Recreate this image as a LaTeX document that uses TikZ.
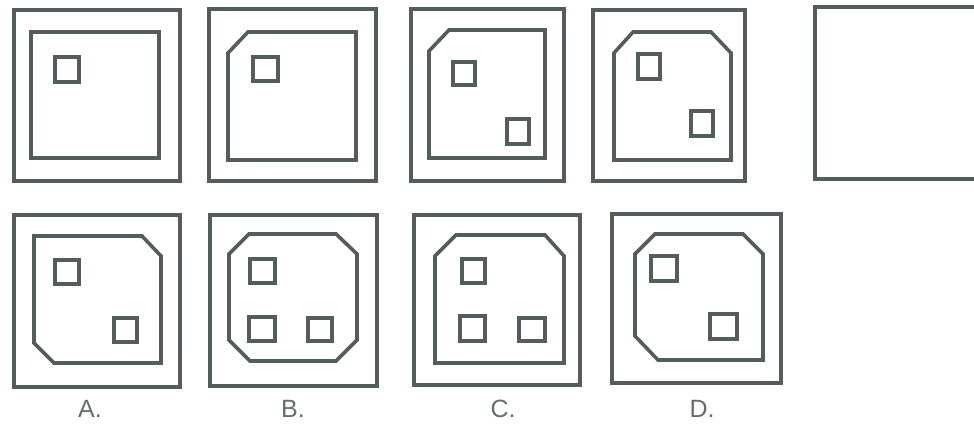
\documentclass[tikz,border=0pt]{standalone}
\usepackage{fontspec}
\setmainfont{Liberation Sans}
\usepackage{tikz}
\usetikzlibrary{positioning}

\definecolor{inkgray}{RGB}{84,94,89}

\begin{document}
\begin{tikzpicture}[x=1pt, y=-1pt, line join=miter,
    frame/.style={draw=inkgray, line width=3.6pt},
    plate/.style={draw=inkgray, line width=3.6pt},
    hole/.style={draw=inkgray, line width=3.2pt},
    choice/.style={font=\fontsize{25}{30}\selectfont, text=inkgray!90, inner sep=0pt}]
  \useasboundingbox (0,0) rectangle (974,425);
  % first row, figure 1
  \draw[frame] (14,10) rectangle (180,181);
  \draw[plate] (31,32) rectangle (159,158);
  \draw[hole] (55,57) rectangle (79,82);
  % figure 2
  \draw[frame] (209,9) rectangle (376,181);
  \draw[plate] (248,32) -- (356,32) -- (356,160) -- (228,160) -- (228,53) -- cycle;
  \draw[hole] (253,57) rectangle (278,81);
  % figure 3
  \draw[frame] (411,9) rectangle (564,181);
  \draw[plate] (449,30) -- (545,30) -- (545,158) -- (429,158) -- (429,51) -- cycle;
  \draw[hole] (453,62) rectangle (475,85);
  \draw[hole] (507,119) rectangle (529,144);
  % figure 4
  \draw[frame] (593,10) rectangle (745,181);
  \draw[plate] (633,32) -- (711,32) -- (731,53) -- (731,160) -- (614,160) -- (614,53) -- cycle;
  \draw[hole] (638,54) rectangle (660,79);
  \draw[hole] (691,111) rectangle (713,136);
  % figure 5 (empty, runs off the right edge)
  \draw[frame] (976,7) -- (815,7) -- (815,179) -- (976,179);
  % option A
  \draw[frame] (14,215) rectangle (180,387);
  \draw[plate] (34,236) -- (142,236) -- (161,256) -- (161,363) -- (54,363) -- (34,343) -- cycle;
  \draw[hole] (55,260) rectangle (79,284);
  \draw[hole] (114,318) rectangle (137,342);
  % option B
  \draw[frame] (210,215) rectangle (377,386);
  \draw[plate] (249,234) -- (336,234) -- (357,254) -- (357,340) -- (336,361)
    -- (250,361) -- (229,340) -- (229,254) -- cycle;
  \draw[hole] (250,259) rectangle (275,283);
  \draw[hole] (249,317) rectangle (275,341);
  \draw[hole] (308,318) rectangle (332,341);
  % option C
  \draw[frame] (414,215) rectangle (580,385);
  \draw[plate] (456,235) -- (545,235) -- (564,256) -- (564,363) -- (435,363) -- (435,256) -- cycle;
  \draw[hole] (462,259) rectangle (485,283);
  \draw[hole] (460,316) rectangle (485,341);
  \draw[hole] (519,318) rectangle (545,341);
  % option D
  \draw[frame] (612,214) rectangle (781,383);
  \draw[plate] (655,234) -- (743,234) -- (763,254) -- (763,360) -- (658,360) -- (635,336)
    -- (635,254) -- cycle;
  \draw[hole] (651,256) rectangle (677,281);
  \draw[hole] (710,314) rectangle (737,339);
  % labels
  \node[choice] (labA) at (90,409) {A.};
  \node[choice] (labB) at (293,409) {B.};
  \node[choice] (labC) at (503,409) {C.};
  \node[choice] (labD) at (702,409) {D.};
\end{tikzpicture}
\end{document}
